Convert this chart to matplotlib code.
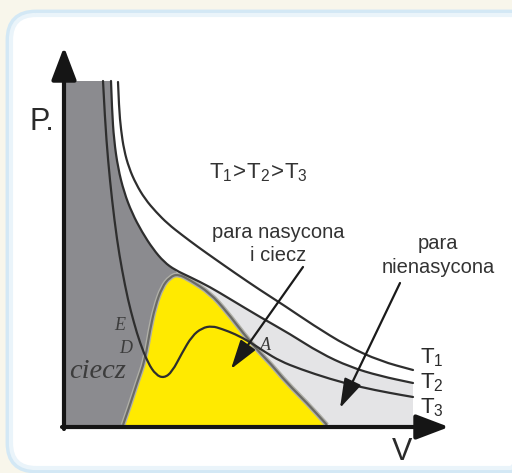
import matplotlib
matplotlib.use("Agg")
import matplotlib.pyplot as plt
from matplotlib.path import Path
from matplotlib.patches import PathPatch, FancyBboxPatch

plt.rcParams['font.family'] = ['Liberation Sans', 'DejaVu Sans']
plt.rcParams['mathtext.fontset'] = 'custom'
plt.rcParams['mathtext.rm'] = 'Liberation Sans'

# isotherms and saturation dome (pixel coords, y down)
t1_x = [118, 119, 121, 124, 129, 136, 145, 156, 168, 182, 198, 215, 235, 260, 285, 313, 347, 380, 413]
t1_y = [82, 108, 130, 150, 168, 184, 199, 212, 224, 235, 247, 259, 273, 290, 306, 325, 346, 361, 370]

t2_x = [111, 112, 114, 118, 124, 132, 142, 153, 164, 175, 190, 210, 230, 260, 290, 320, 350, 380, 413]
t2_y = [81, 110, 140, 168, 192, 213, 232, 249, 262, 270, 277, 287, 299, 317, 334, 353, 367, 376, 383]

t3_x = [103, 105, 108, 112, 117, 122, 128, 134, 140, 148, 156, 164, 172, 182, 192, 202, 212, 222,
        235, 250, 265, 280, 300, 330, 360, 390, 413]
t3_y = [81, 120, 160, 200, 240, 270, 300, 323, 343, 363, 375, 378, 372, 353, 336, 328, 326, 329,
        334, 342, 352, 361, 369, 379, 387, 393, 397]

dome_x = [123, 130, 137, 145, 150, 155, 162, 170, 178, 190, 210, 227, 243, 260, 270, 287, 307, 327]
dome_y = [425, 405, 383, 360, 330, 307, 287, 277, 274, 280, 293, 312, 333, 353, 363, 383, 403, 425]

iso_labels = ["1", "2", "3"]


def smooth(xs, ys):
    verts = [(xs[0], ys[0])]
    codes = [Path.MOVETO]
    for i in range(1, len(xs) - 1):
        verts += [(xs[i], ys[i]), ((xs[i] + xs[i + 1]) / 2, (ys[i] + ys[i + 1]) / 2)]
        codes += [Path.CURVE3, Path.CURVE3]
    verts.append((xs[-1], ys[-1]))
    codes.append(Path.LINETO)
    return verts, codes


def chain(pieces):
    verts, codes = [], []
    for xs, ys in pieces:
        v, c = smooth(xs, ys)
        if verts:
            c[0] = Path.LINETO
        verts += v
        codes += c
    verts.append(verts[0])
    codes.append(Path.CLOSEPOLY)
    return Path(verts, codes)


def line(xs, ys):
    v, c = smooth(xs, ys)
    return Path(v, c)


fig = plt.figure(figsize=(5.12, 4.73), dpi=100, facecolor='#f8f6eb')
ax = fig.add_axes([0, 0, 1, 1])
ax.set_xlim(0, 512)
ax.set_ylim(473, 0)
ax.axis('off')

# rounded frame
ax.add_patch(FancyBboxPatch((8, 12), 530, 459, boxstyle='round,pad=0,rounding_size=28',
                            facecolor='white', edgecolor='#d3e8f5', lw=3.5, zorder=0))
ax.add_patch(FancyBboxPatch((11, 15), 524, 453, boxstyle='round,pad=0,rounding_size=25',
                            facecolor='none', edgecolor='#eaf4fa', lw=3, zorder=0))

top = 9   # index in t2 where the isotherm meets the dome
peak = 8  # dome top

# liquid region (dark gray)
dark = chain([(t2_x[:top + 1], t2_y[:top + 1]),
              (dome_x[peak::-1], dome_y[peak::-1]),
              ([123, 66], [427, 427]),
              ([66, 66], [427, 81])])
ax.add_patch(PathPatch(dark, facecolor='#8b8b8f', edgecolor='none', zorder=1))

# unsaturated vapour region (light gray)
light = chain([(t2_x[top:], t2_y[top:]),
               ([413, 413], [383, 427]),
               ([413, 327], [427, 427]),
               (dome_x[:peak - 1:-1], dome_y[:peak - 1:-1])])
ax.add_patch(PathPatch(light, facecolor='#e4e4e6', edgecolor='none', zorder=1))

# saturated vapour + liquid (yellow dome)
ax.add_patch(PathPatch(chain([(dome_x, dome_y)]), facecolor='#ffea00', edgecolor='none', zorder=2))
ax.add_patch(PathPatch(line(dome_x, dome_y), fill=False, edgecolor='#b0b0a8', lw=3.5, zorder=3))
ax.add_patch(PathPatch(line(dome_x, dome_y), fill=False, edgecolor='#6a6a66', lw=1.6, zorder=3))

for xs, ys in [(t1_x, t1_y), (t2_x, t2_y), (t3_x, t3_y)]:
    ax.add_patch(PathPatch(line(xs, ys), fill=False, edgecolor='#2e2e2e', lw=1.6,
                           capstyle='round', zorder=4))

# axes with arrows
ax.annotate('', xy=(64, 47), xytext=(64, 429),
            arrowprops=dict(arrowstyle='-|>,head_length=1.0,head_width=0.38', lw=3,
                            color='#151515', mutation_scale=20, shrinkA=0, shrinkB=0), zorder=6)
ax.annotate('', xy=(449, 427), xytext=(62, 427),
            arrowprops=dict(arrowstyle='-|>,head_length=1.0,head_width=0.38', lw=3,
                            color='#151515', mutation_scale=20, shrinkA=0, shrinkB=0), zorder=6)

ax.text(29, 130, 'P.', fontsize=22, color='#2a2a2a', va='baseline', ha='left')
ax.text(402, 460, 'V', fontsize=22, color='#2a2a2a', va='baseline', ha='center')

ax.text(209, 178, r'$\mathregular{T_1\!>\!T_2\!>\!T_3}$', fontsize=16, color='#333333',
        va='baseline', ha='left')

ax.text(278, 238, 'para nasycona', fontsize=14.5, color='#333333', va='baseline', ha='center')
ax.text(278, 261, 'i ciecz', fontsize=14.5, color='#333333', va='baseline', ha='center')
ax.text(438, 249, 'para', fontsize=14.5, color='#333333', va='baseline', ha='center')
ax.text(438, 273, 'nienasycona', fontsize=14.5, color='#333333', va='baseline', ha='center')

for lab, yb in zip(iso_labels, [363, 388, 413]):
    ax.text(420, yb, r'$\mathregular{T_%s}$' % lab, fontsize=16, color='#2a2a2a',
            va='baseline', ha='left')

serif = dict(family=['Liberation Serif', 'DejaVu Serif'], style='italic', color='#3c3c3c')
ax.text(120, 330, 'E', fontsize=13, va='baseline', ha='center', **serif)
ax.text(126, 353, 'D', fontsize=13, va='baseline', ha='center', **serif)
ax.text(265, 350, 'A', fontsize=13, va='baseline', ha='center', **serif)
ax.text(69, 378, 'ciecz', fontsize=20.5, va='baseline', ha='left', **serif)

arrow = dict(arrowstyle='-|>,head_length=0.9,head_width=0.28', lw=1.6, color='#1a1a1a',
             mutation_scale=20, shrinkA=0, shrinkB=0)
ax.annotate('', xy=(231, 369), xytext=(303, 267), arrowprops=arrow, zorder=7)
ax.annotate('', xy=(340, 408), xytext=(400, 283), arrowprops=arrow, zorder=7)

fig.savefig('out.png', dpi=100, facecolor=fig.get_facecolor())
